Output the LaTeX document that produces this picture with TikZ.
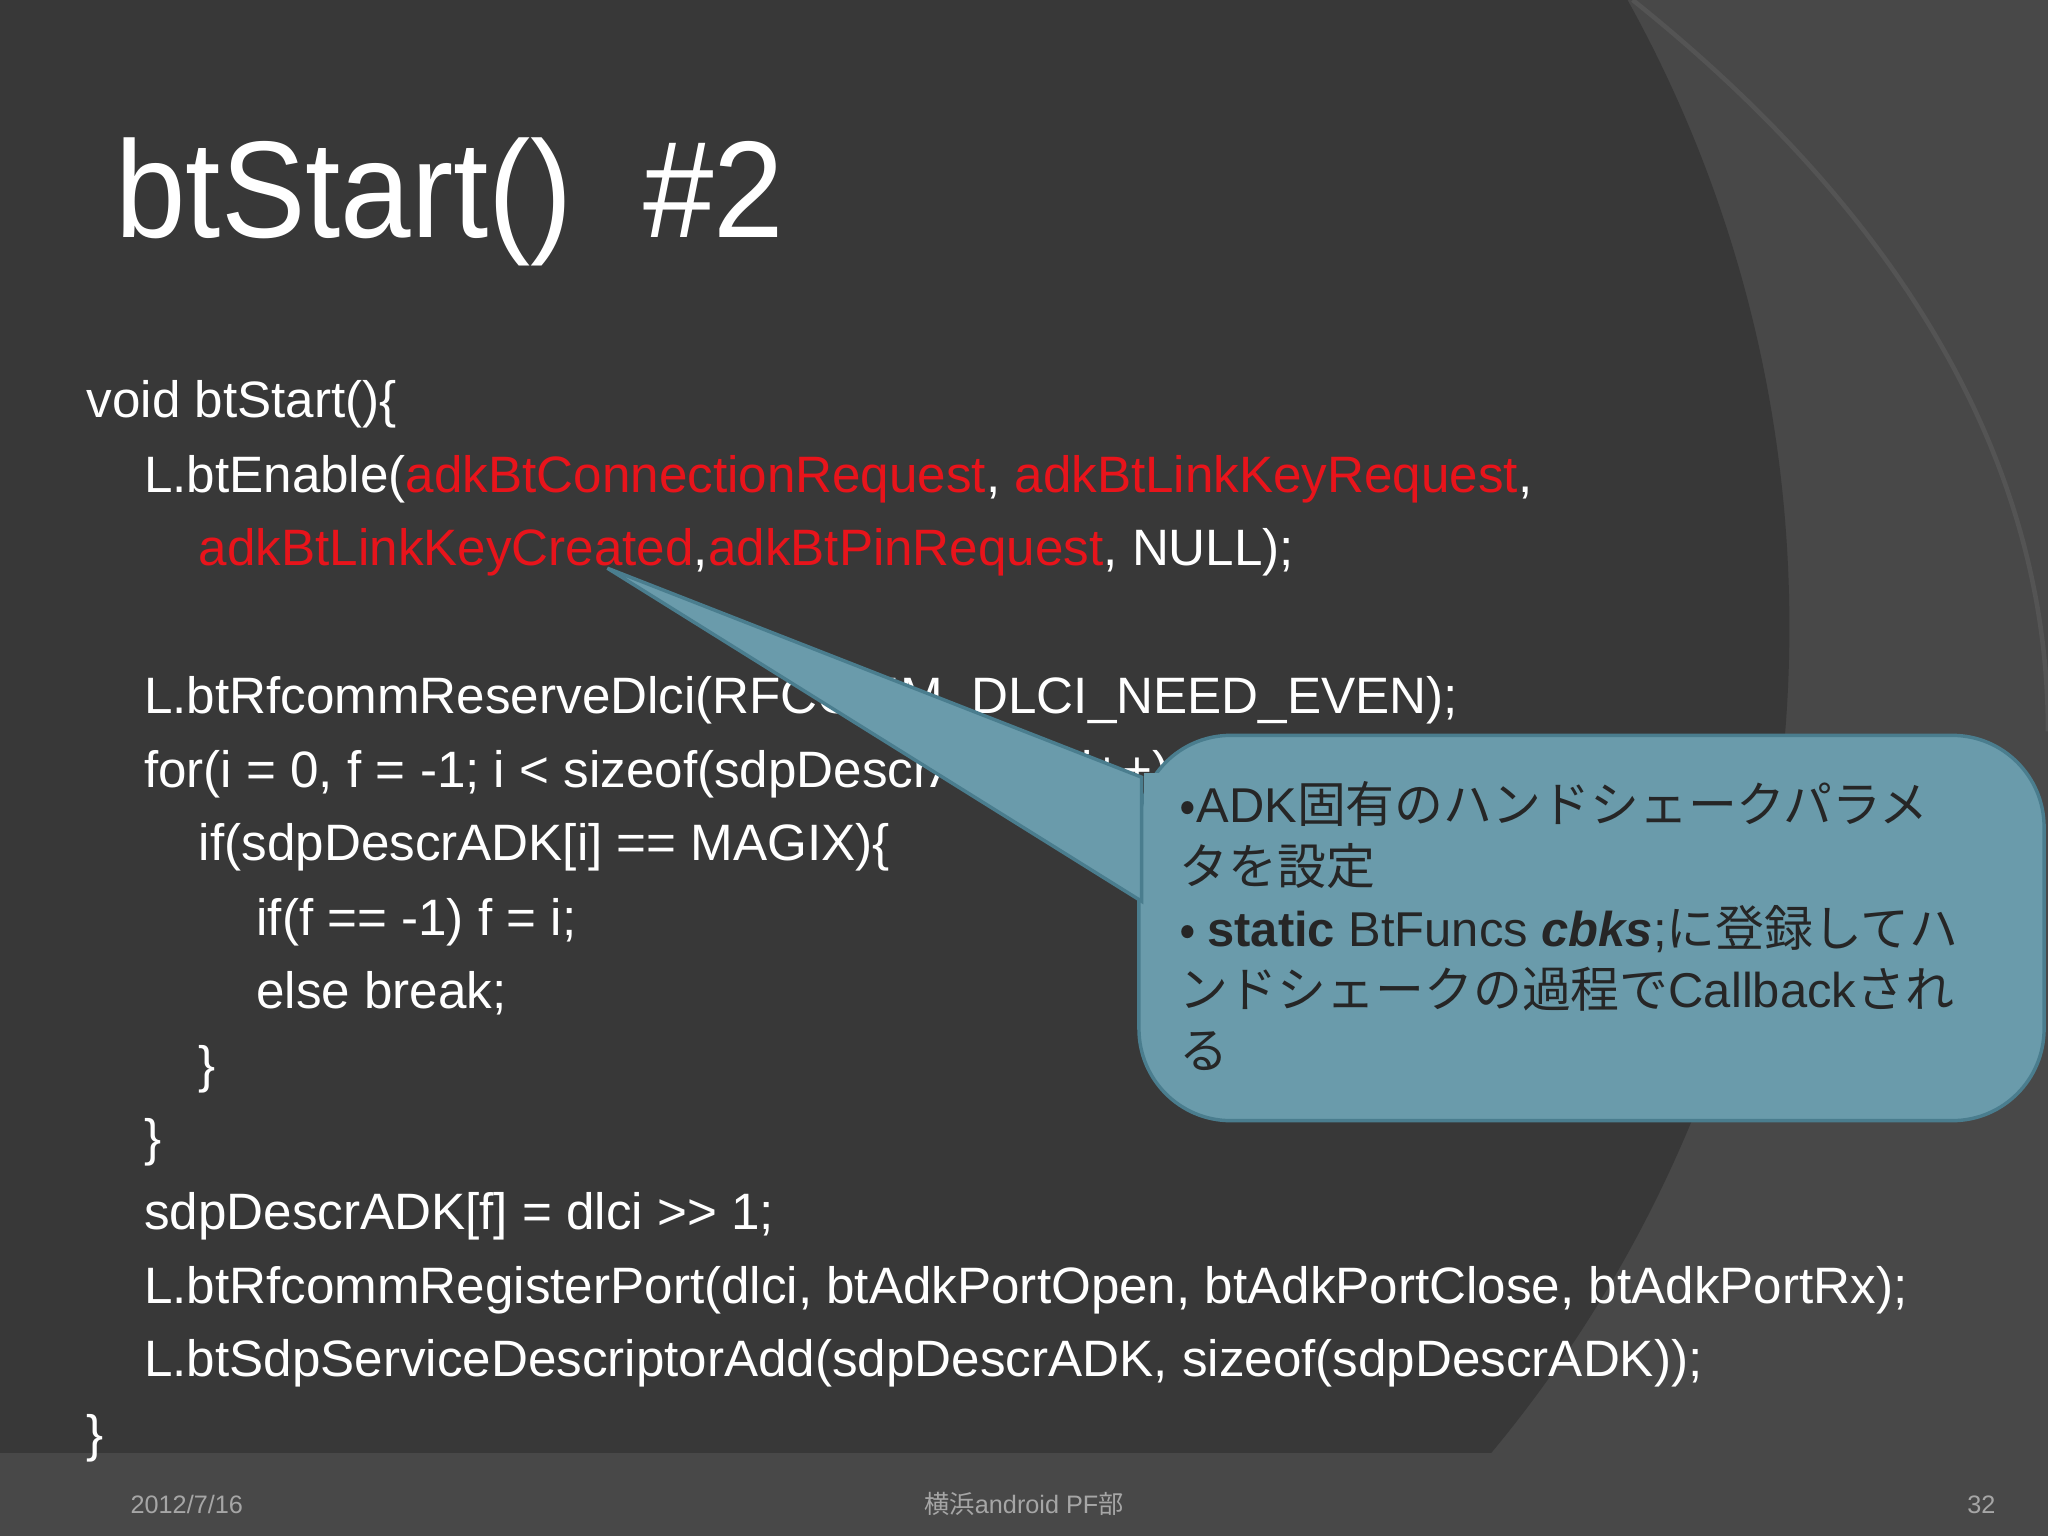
\documentclass[tikz,border=0pt]{standalone}
\usepackage{fontspec}
\setmainfont{Liberation Sans}
\newfontfamily\jp{Noto Sans CJK JP}
\definecolor{bgd}{HTML}{383838}
\definecolor{bgl}{HTML}{484848}
\definecolor{bgll}{HTML}{545454}
\definecolor{red1}{HTML}{E8141B}
\definecolor{callf}{HTML}{6A9BAB}
\definecolor{calld}{HTML}{4A7D8E}
\begin{document}
\begin{tikzpicture}[x=0.02cm,y=-0.02cm,
  code/.style={anchor=base west,inner sep=0pt,text=white,font=\fontsize{22.3}{26}\selectfont},
  note/.style={anchor=base west,inner sep=0pt,text=black!85,font=\fontsize{21.3}{24}\jp},
  foot/.style={anchor=base,inner sep=0pt,text=gray!70,font=\fontsize{11}{13}\selectfont}]
\useasboundingbox (0,0) rectangle (1568,1176);
\fill[bgl] (0,0) rectangle (1568,1176);
\begin{scope}
\clip (0,0) rectangle (1568,1112);
\fill[bgd] (380,480) circle (990);
\end{scope}
\fill[bgll] (1420,0) arc (180:270:150) -- (1568,0) -- cycle;
\draw[bgll,line width=2pt] (1250,0) .. controls (1500,200) and (1568,400) .. (1568,560);
% title
\node[anchor=base west,inner sep=0pt,text=white,font=\fontsize{60}{70}\selectfont,xscale=0.92] (title) at (88,182) {btStart()\ \ \#2};
% code
\node[code] (l1) at (66,320) {void btStart()\{};
\node[code] (l2) at (110,377) {L.btEnable(\textcolor{red1}{adkBtConnectionRequest}, \textcolor{red1}{adkBtLinkKeyRequest},};
\node[code] (l3) at (152,433) {\textcolor{red1}{adkBtLinkKeyCreated},\textcolor{red1}{adkBtPinRequest}, NULL);};
\node[code] (l4) at (110,546) {L.btRfcommReserveDlci(RFCOMM\_DLCI\_NEED\_EVEN);};
\node[code] (l5) at (110,603) {for(i = 0, f = -1; i < sizeof(sdpDescrADK); i++)\{};
\node[code] (l6) at (152,659) {if(sdpDescrADK[i] == MAGIX)\{};
\node[code] (l7) at (196,716) {if(f == -1) f = i;};
\node[code] (l8) at (196,772) {else break;};
\node[code] (l9) at (152,829) {\}};
\node[code] (l10) at (110,885) {\}};
\node[code] (l11) at (110,941) {sdpDescrADK[f] = dlci {>}{>} 1;};
\node[code] (l12) at (110,998) {L.btRfcommRegisterPort(dlci, btAdkPortOpen, btAdkPortClose, btAdkPortRx);};
\node[code] (l13) at (110,1054) {L.btSdpServiceDescriptorAdd(sdpDescrADK, sizeof(sdpDescrADK));};
\node[code] (l14) at (66,1111) {\}};
% callout
\coordinate (tip) at (465,435);
\filldraw[fill=callf,draw=calld,line width=1.5pt,rounded corners=40pt]
  (872,563) rectangle (1565,858);
\filldraw[fill=callf,draw=calld,line width=1.5pt] (tip) -- (874,595) -- (874,690) -- cycle;
\fill[callf] (876,592) rectangle (900,694);
\node[note] (n1) at (903,630) {•\rmfamily ADK\jp 固有のハンドシェークパラメ};
\node[note] (n2) at (903,677) {タを設定};
\node[note] (n3) at (903,725) {• {\rmfamily\textbf{static} BtFuncs \textbf{\textit{cbks}};}に登録してハ};
\node[note] (n4) at (903,771) {ンドシェークの過程で{\rmfamily Callback}され};
\node[note] (n5) at (903,818) {る};
% footer
\node[foot] (f1) at (143,1159) {2012/7/16};
\node[foot] (f2) at (784,1159) {\jp 横浜\rmfamily android PF\jp 部};
\node[foot] (f3) at (1517,1159) {32};
\end{tikzpicture}
\end{document}
